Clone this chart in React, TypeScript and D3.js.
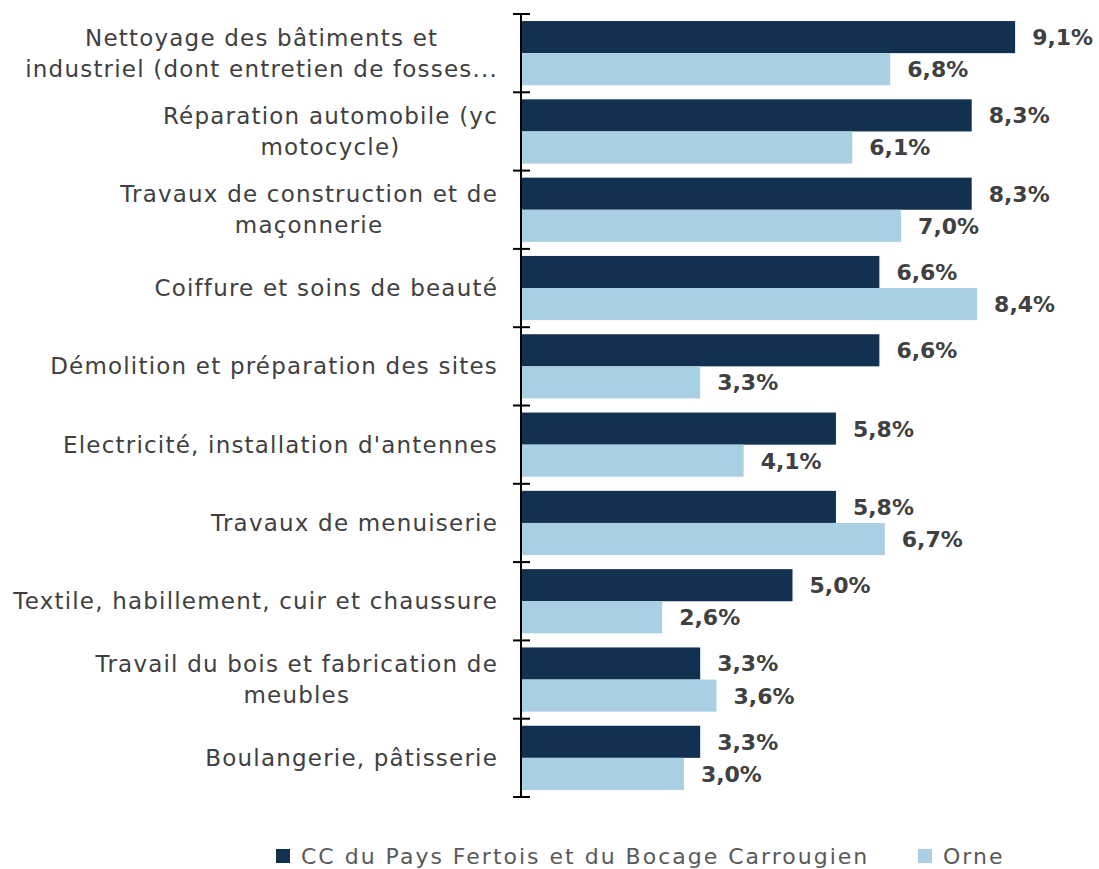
import React, { useEffect, useRef } from "react";
import * as d3 from "d3";

const categories = [
  "Nettoyage des bâtiments et\nindustriel (dont entretien de fosses...",
  "Réparation automobile (yc\nmotocycle)",
  "Travaux de construction et de\nmaçonnerie",
  "Coiffure et soins de beauté",
  "Démolition et préparation des sites",
  "Electricité, installation d'antennes",
  "Travaux de menuiserie",
  "Textile, habillement, cuir et chaussure",
  "Travail du bois et fabrication de\nmeubles",
  "Boulangerie, pâtisserie",
];
const ccValues = [9.1, 8.3, 8.3, 6.6, 6.6, 5.8, 5.8, 5.0, 3.3, 3.3];
const orneValues = [6.8, 6.1, 7.0, 8.4, 3.3, 4.1, 6.7, 2.6, 3.6, 3.0];
const seriesNames = ["CC du Pays Fertois et du Bocage Carrougien", "Orne"];
const colors = ["#12304f", "#a9cfe3"];

const FONT = "'DejaVu Sans', 'Open Sans', sans-serif";

export default function App() {
  const ref = useRef<SVGSVGElement>(null);

  useEffect(() => {
    const svg = d3.select(ref.current);
    svg.selectAll("*").remove();
    const axisX = 521;
    const labelRight = 498;

    const y = d3.scaleBand().domain(categories).range([14, 797]).paddingInner(0.18).paddingOuter(0.09);
    const x = d3.scaleLinear().domain([0, 10]).range([axisX, axisX + 543]);
    const sub = d3.scaleBand().domain(["0", "1"]).range([0, y.bandwidth()]);

    const fmt = (v: number) => v.toFixed(1).replace(".", ",") + "%";

    const groups = svg.selectAll("g.cat").data(categories).enter().append("g")
      .attr("class", "cat")
      .attr("transform", (d) => `translate(0,${y(d)})`);

    [ccValues, orneValues].forEach((vals, si) => {
      groups.append("rect")
        .attr("x", axisX)
        .attr("y", sub(String(si))!)
        .attr("width", (_, i) => x(vals[i]) - axisX)
        .attr("height", sub.bandwidth())
        .attr("fill", colors[si]);
      groups.append("text")
        .attr("x", (_, i) => x(vals[i]) + 17)
        .attr("y", sub(String(si))! + sub.bandwidth() / 2)
        .attr("dy", "0.36em")
        .attr("font-family", FONT)
        .attr("font-weight", "bold")
        .attr("font-size", 22)
        .attr("fill", "#404040")
        .text((_, i) => fmt(vals[i]));
    });

    // category labels: block sits right against the axis, wrapped lines are centred
    groups.each(function (d) {
      const lines = d.split("\n");
      const g = d3.select(this);
      const cy = y.bandwidth() / 2;
      const lh = 31;
      const t = g.append("text")
        .attr("font-family", FONT)
        .attr("font-size", 23)
        .attr("letter-spacing", 1.2)
        .attr("fill", "#404040");
      const spans = lines.map((line, li) =>
        t.append("tspan")
          .attr("y", cy + (li - (lines.length - 1) / 2) * lh)
          .attr("dy", "0.35em")
          .text(line)
      );
      const maxW = d3.max(spans, (s) => (s.node() as SVGTSpanElement).getComputedTextLength()) || 0;
      t.attr("text-anchor", "middle");
      spans.forEach((s) => s.attr("x", labelRight - maxW / 2));
    });

    // axis, ticks at band boundaries
    const bounds = d3.range(categories.length + 1).map((i) => 14 + i * (783 / categories.length));
    svg.append("line").attr("x1", axisX).attr("x2", axisX).attr("y1", 14).attr("y2", 797)
      .attr("stroke", "#000").attr("stroke-width", 2);
    svg.selectAll("line.tick").data(bounds).enter().append("line")
      .attr("class", "tick")
      .attr("x1", axisX - 8).attr("x2", axisX + 9)
      .attr("y1", (d) => d).attr("y2", (d) => d)
      .attr("stroke", "#000").attr("stroke-width", 2);

    // legend
    const legend = [
      { name: seriesNames[0], x: 276 },
      { name: seriesNames[1], x: 918 },
    ];
    legend.forEach((l, i) => {
      svg.append("rect").attr("x", l.x).attr("y", 849).attr("width", 14).attr("height", 14).attr("fill", colors[i]);
      svg.append("text").attr("x", l.x + 25).attr("y", 856).attr("dy", "0.35em")
        .attr("font-family", FONT).attr("font-size", 22).attr("letter-spacing", 2)
        .attr("fill", "#595959").text(l.name);
    });
  }, []);

  return (
    <svg ref={ref} width={1099} height={869} style={{ position: "absolute", left: 0, top: 0, background: "#fff" }} />
  );
}
